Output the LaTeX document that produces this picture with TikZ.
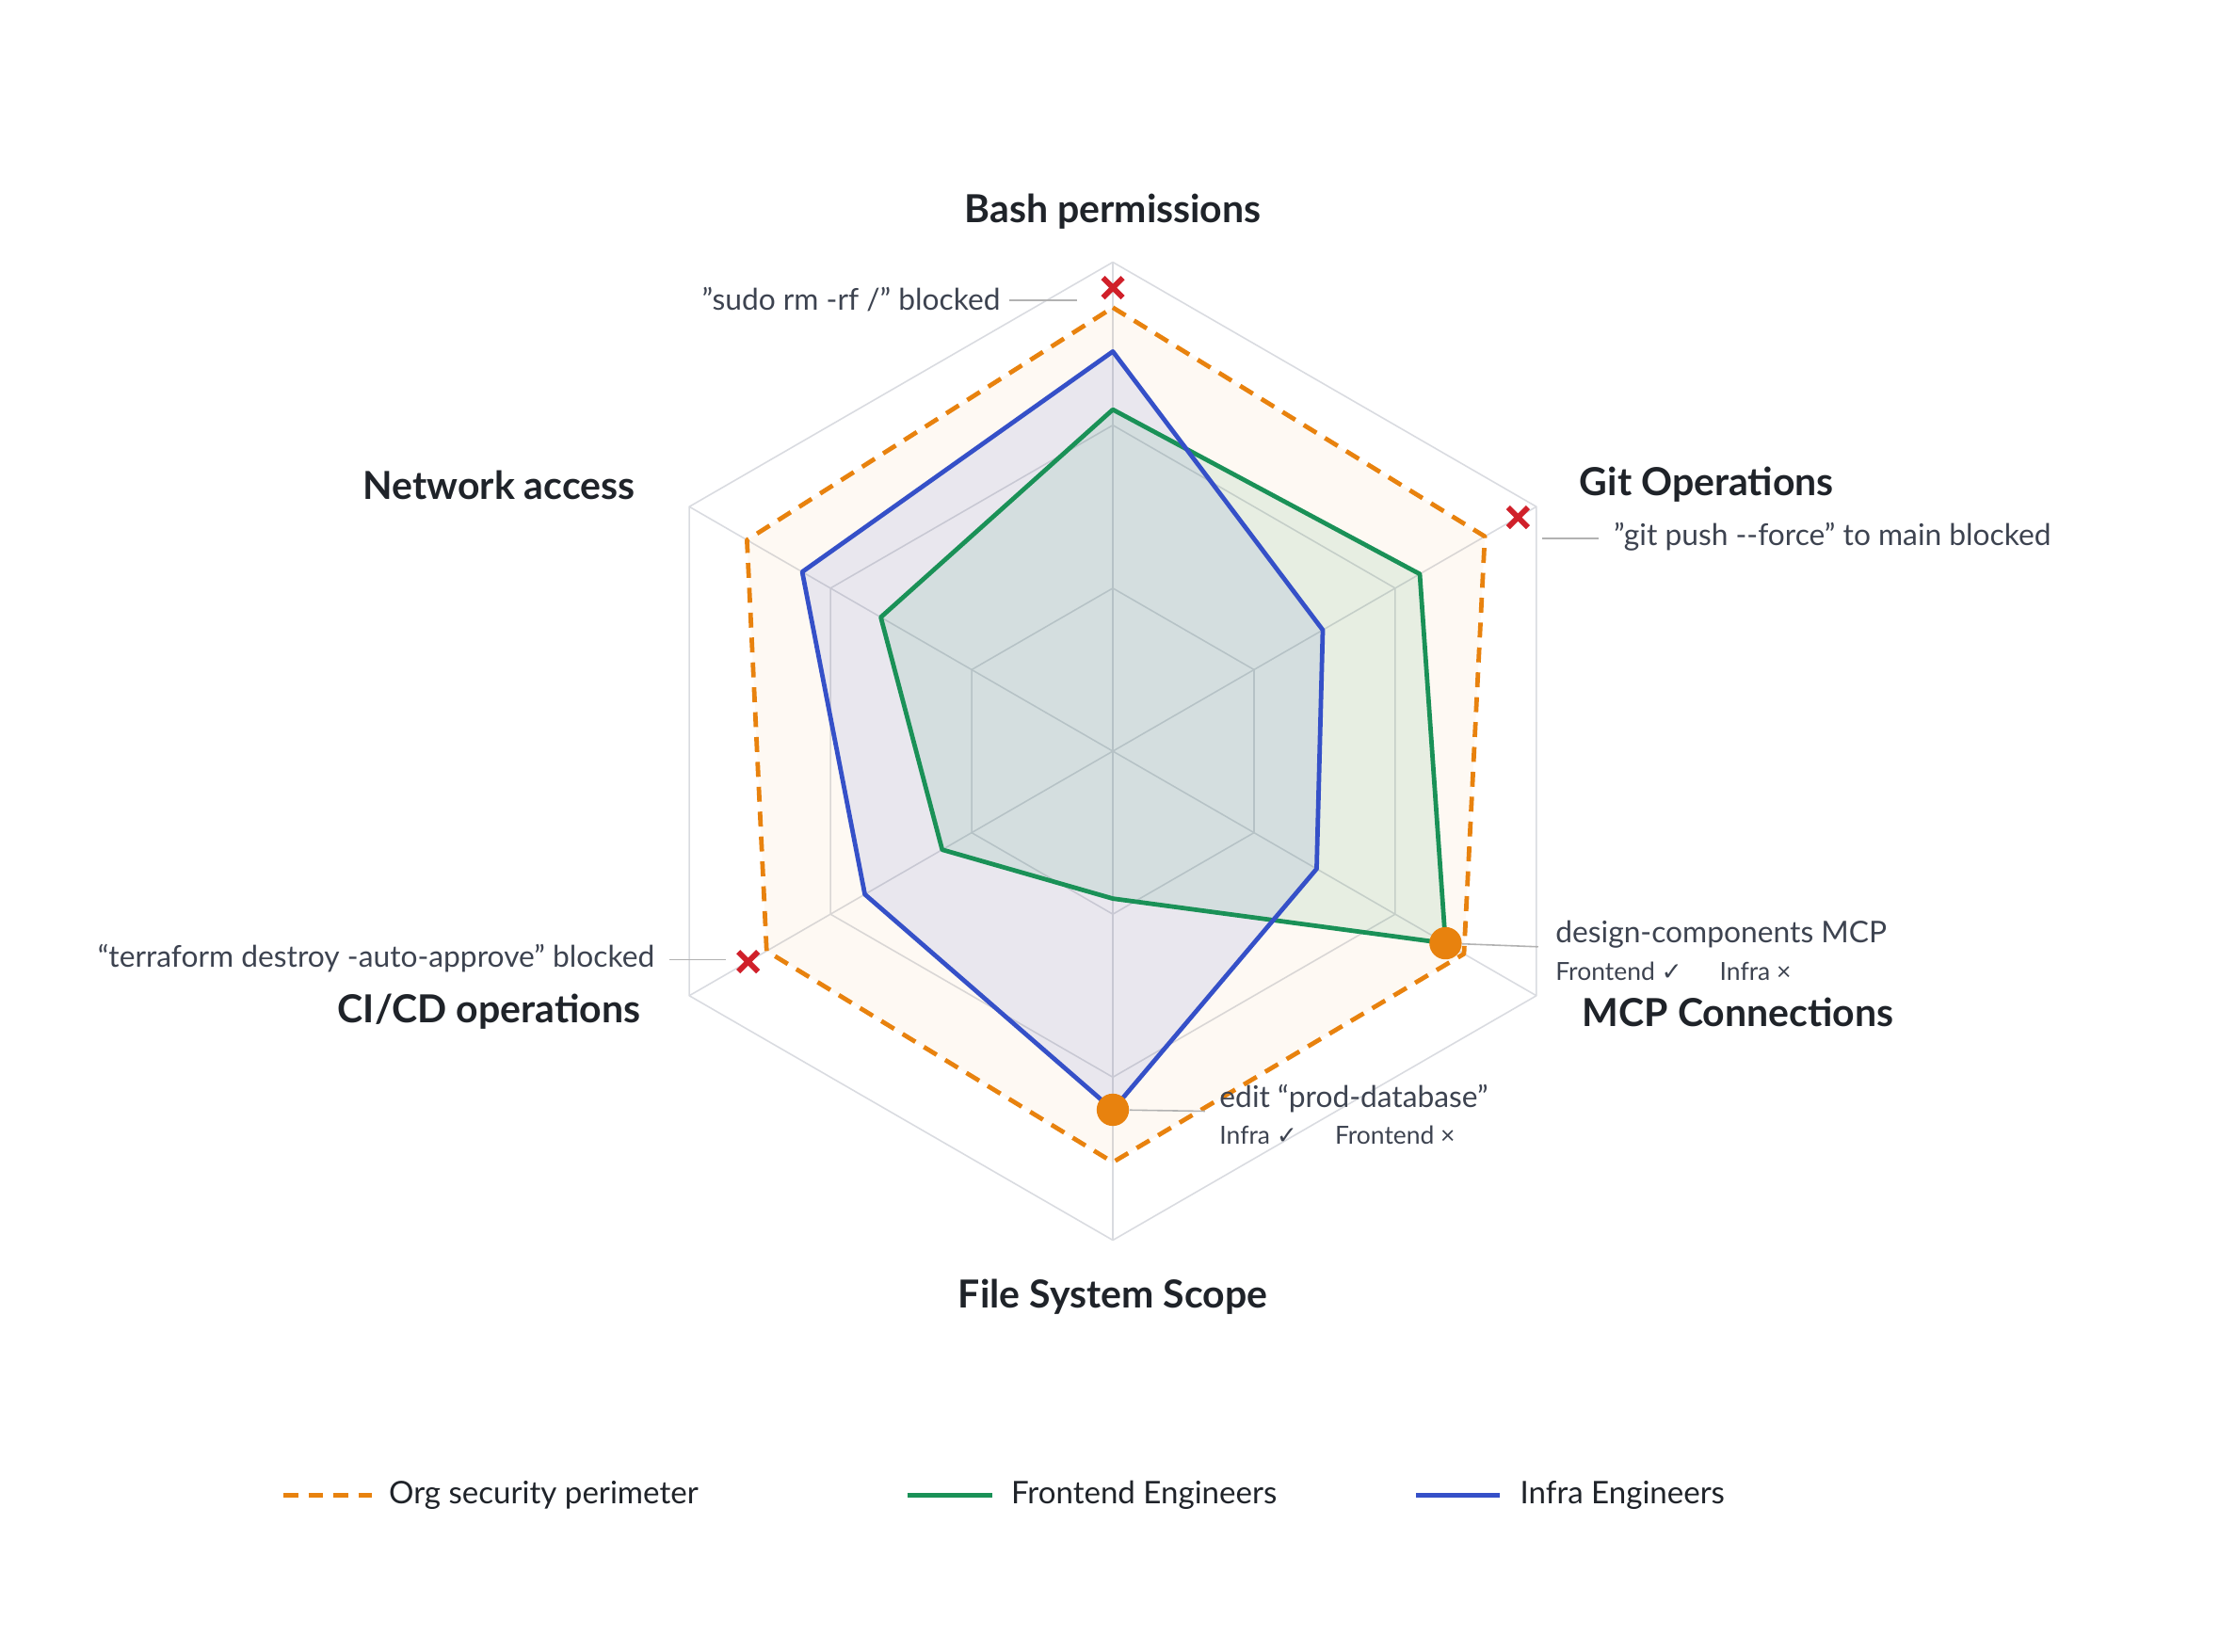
\documentclass[tikz,border=0pt]{standalone}
\usepackage{fontspec}
\setmainfont{Lato}
\newfontfamily\symfont{DejaVu Sans}
\usetikzlibrary{calc}
\definecolor{orgC}{HTML}{E8820E}
\definecolor{feC}{HTML}{1A9157}
\definecolor{infC}{HTML}{3550C8}
\definecolor{gridC}{HTML}{D9DBE0}
\definecolor{blockC}{HTML}{D0202A}
\definecolor{txtC}{HTML}{1F2329}
\definecolor{noteC}{HTML}{3D4350}
\newcommand{\dq}{\char"0022\relax}
\begin{document}
\begin{tikzpicture}
  [x=0.02cm,y=0.02cm,
   axisL/.style={font=\fontsize{15.5}{17}\selectfont\bfseries,text=txtC},
   noteL/.style={font=\fontsize{12}{14}\selectfont,text=noteC,inner sep=0pt},
   smallL/.style={font=\fontsize{10}{12}\selectfont,text=noteC,inner sep=0pt},
   legL/.style={font=\fontsize{12.5}{14}\selectfont,text=txtC,anchor=west,inner sep=0pt},
   leader/.style={draw=gray!60,line width=0.6pt},
   blockX/.style={draw=blockC,line width=2.2pt},
   hitN/.style={circle,fill=orgC,minimum size=13pt,inner sep=0pt},
   line join=round]

  \useasboundingbox (0,0) rectangle (1566,1165);

  \begin{scope}[shift={(785,635)}]
    % grid
    \foreach \r in {115,230,345}
      \draw[gridC,line width=0.6pt] (90:\r) -- (30:\r) -- (-30:\r) -- (-90:\r) -- (210:\r) -- (150:\r) -- cycle;
    \foreach \a in {90,30,-30,-90,210,150}
      \draw[gridC,line width=0.6pt] (0,0) -- (\a:345);

    % perimeter
    \fill[orgC,opacity=0.05] (90:313) -- (30:303) -- (-30:286) -- (-90:290) -- (210:282) -- (150:298) -- cycle;
    % infra
    \fill[infC,opacity=0.10] (90:282) -- (30:171) -- (-30:166) -- (-90:253) -- (210:202) -- (150:253) -- cycle;
    % frontend
    \fill[feC,opacity=0.10] (90:241) -- (30:250) -- (-30:271) -- (-90:104) -- (210:139) -- (150:189) -- cycle;

    \draw[orgC,line width=1.8pt,dash pattern=on 6pt off 4pt] (90:313) -- (30:303) -- (-30:286) -- (-90:290) -- (210:282) -- (150:298) -- cycle;
    \draw[feC,line width=1.8pt] (90:241) -- (30:250) -- (-30:271) -- (-90:104) -- (210:139) -- (150:189) -- cycle;
    \draw[infC,line width=1.8pt] (90:282) -- (30:171) -- (-30:166) -- (-90:253) -- (210:202) -- (150:253) -- cycle;

    % blocked markers
    \coordinate (xBash) at (90:327);
    \coordinate (xGit) at (30:330);
    \coordinate (xCicd) at (210:297);
    \foreach \p in {xBash,xGit,xCicd}
      \draw[blockX] ($(\p)+(-7,-7)$) -- ($(\p)+(7,7)$) ($(\p)+(-7,7)$) -- ($(\p)+(7,-7)$);

    % conflict dots
    \node[hitN] (hitMcp) at (-30:271) {};
    \node[hitN] (hitFs) at (-90:253) {};
  \end{scope}

  % axis labels
  \node[axisL] (bash) at (785,1016) {Bash permissions};
  \node[axisL] (git) at (1204,823) {Git Operations};
  \node[axisL] (net) at (352,823) {Network access};
  \node[axisL] (cicd) at (345,451) {CI/CD operations};
  \node[axisL] (mcp) at (1226,451) {MCP Connections};
  \node[axisL] (fs) at (785,250) {File System Scope};

  % annotations
  \coordinate (bashA) at (712,953); \coordinate (bashB) at (760,953);
  \draw[leader] (bashA) -- (bashB);
  \node[noteL,anchor=east] (bashN) at (706,954) {\dq sudo rm -rf /\dq{} blocked};

  \coordinate (gitA) at (1088,785); \coordinate (gitB) at (1128,785);
  \draw[leader] (gitA) -- (gitB);
  \node[noteL,anchor=west] (gitN) at (1138,786) {\dq git push -{}-force\dq{} to main blocked};

  \coordinate (cicdA) at (472,488); \coordinate (cicdB) at (512,488);
  \draw[leader] (cicdA) -- (cicdB);
  \node[noteL,anchor=east] (cicdN) at (462,489) {“terraform destroy -auto-approve” blocked};

  \coordinate (mcpB) at (1085,497);
  \draw[leader] (hitMcp) -- (mcpB);
  \node[noteL,anchor=west] (mcpN) at (1097,506) {design-components MCP};
  \node[smallL,anchor=west] (mcpS) at (1097,480) {Frontend {\symfont ✓}\quad\ \ Infra ×};

  \coordinate (fsB) at (850,381);
  \draw[leader] (hitFs) -- (fsB);
  \node[noteL,anchor=west] (fsN) at (860,390) {edit “prod-database”};
  \node[smallL,anchor=west] (fsS) at (860,364) {Infra {\symfont ✓}\quad\ \ Frontend ×};

  % legend
  \coordinate (lo1) at (200,110); \coordinate (lo2) at (262,110);
  \draw[orgC,line width=2pt,dash pattern=on 6pt off 4pt] (lo1) -- (lo2);
  \node[legL] (legOrg) at (274,110) {Org security perimeter};
  \coordinate (lf1) at (640,110); \coordinate (lf2) at (700,110);
  \draw[feC,line width=2pt] (lf1) -- (lf2);
  \node[legL] (legFe) at (713,110) {Frontend Engineers};
  \coordinate (li1) at (999,110); \coordinate (li2) at (1058,110);
  \draw[infC,line width=2pt] (li1) -- (li2);
  \node[legL] (legInf) at (1072,110) {Infra Engineers};
\end{tikzpicture}
\end{document}
